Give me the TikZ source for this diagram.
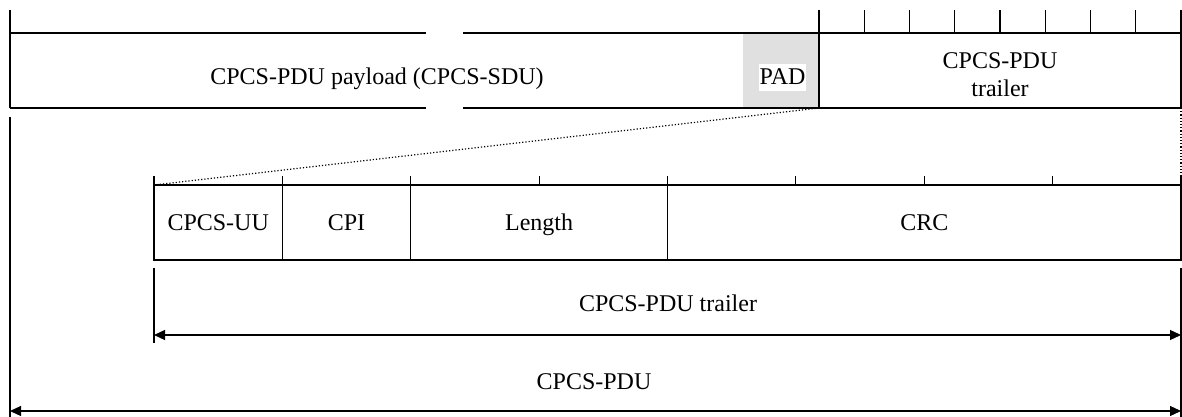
\documentclass[tikz,border=0pt]{standalone}
\usepackage{fontspec}
\setmainfont{Liberation Serif}
\usetikzlibrary{arrows.meta}
\definecolor{padgrey}{RGB}{224,224,224}
\begin{document}
\begin{tikzpicture}[x=0.5pt,y=-0.5pt,line width=0.6pt,font=\fontsize{12pt}{14pt}\selectfont,
    box/.style={draw,minimum height=37.5pt,inner sep=0pt,outer sep=0pt},
    field/.style={box,text height=8pt,text depth=0pt},
    dim/.style={{Triangle[length=5.5pt,width=5pt]}-{Triangle[length=5.5pt,width=5pt]}}]
            \useasboundingbox (0,0) rectangle (1182,417);

            % CPCS-PDU
            \node[fill=padgrey,minimum width=38pt,minimum height=37.5pt,inner sep=0pt] (pad) at (781,70.5) {};
            \node[anchor=base,fill=white,inner xsep=0.3pt,inner ysep=0.5pt,text height=10pt,text depth=2.5pt] (padtext) at (782.5,85) {PAD};
            \draw (10,33) -- (426,33) (463,33) -- (819,33);
            \draw (10,108) -- (426,108) (463,108) -- (819,108);
            \draw (10,10) -- (10,108);
            \node[anchor=base] (payload) at (377,84) {CPCS-PDU payload (CPCS-SDU)};
            \node[box,minimum width=181pt] (trailer) at (1000,70.5) {};
            \node[align=center] (trailertext) at (1000,74.5) {CPCS-PDU\\trailer};
            \foreach \i in {0,...,8} \draw (819+45.25*\i,10) -- (819+45.25*\i,33);

            % trailer fields
            \node[field,minimum width=64.19pt] (uu) at (218.19,222.5) {CPCS-UU};
            \node[field,minimum width=64.19pt] (cpi) at (346.56,222.5) {CPI};
            \node[field,minimum width=128.375pt] (len) at (539.13,222.5) {Length};
            \node[field,minimum width=256.75pt] (crc) at (924.25,222.5) {CRC};
            \foreach \i in {0,...,8} \draw (154+128.375*\i,176) -- (154+128.375*\i,185);
            \draw[densely dotted] (trailer.south west) to (uu.north west);
            \draw[densely dotted] (trailer.south east) to (crc.north east);

            % lengths
            \coordinate (trlT) at (154,268); \coordinate (trlB) at (154,343);
            \coordinate (pduT) at (10,117); \coordinate (pduB) at (10,417);
            \coordinate (endT) at (1181,268); \coordinate (endB) at (1181,417);
            \coordinate (trlL) at (154,335); \coordinate (trlR) at (1181,335);
            \coordinate (pduL) at (10,411); \coordinate (pduR) at (1181,411);
            \draw (trlT) to (trlB); \draw (pduT) to (pduB); \draw (endT) to (endB);
            \draw[dim] (trlL) to (trlR); \draw[dim] (pduL) to (pduR);
            \node[anchor=base] (trllabel) at (668,311) {CPCS-PDU trailer};
            \node[anchor=base] (pdulabel) at (594,389) {CPCS-PDU};
        \end{tikzpicture}
\end{document}
